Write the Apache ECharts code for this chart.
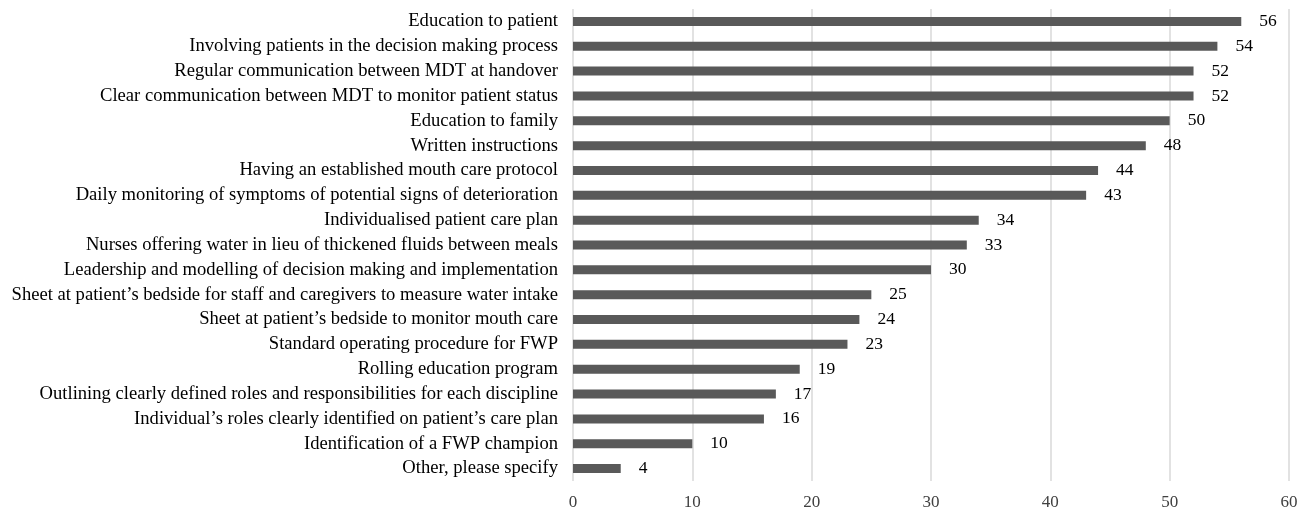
<!DOCTYPE html>
<html><head><meta charset="utf-8">
<script src="https://cdn.jsdelivr.net/npm/echarts@6/dist/echarts.min.js"></script>
<style>html,body{margin:0;padding:0;background:#fff}#c{width:1309px;height:514px}</style>
</head><body><div id="c"></div>
<script>
const categories = [
"Education to patient",
"Involving patients in the decision making process",
"Regular communication between MDT at handover",
"Clear communication between MDT to monitor patient status",
"Education to family",
"Written instructions",
"Having an established mouth care protocol",
"Daily monitoring of symptoms of potential signs of deterioration",
"Individualised patient care plan",
"Nurses offering water in lieu of thickened fluids between meals",
"Leadership and modelling of decision making and implementation",
"Sheet at patient\u2019s bedside for staff and caregivers to measure water intake",
"Sheet at patient\u2019s bedside to monitor mouth care",
"Standard operating procedure for FWP",
"Rolling education program",
"Outlining clearly defined roles and responsibilities for each discipline",
"Individual\u2019s roles clearly identified on patient\u2019s care plan",
"Identification of a FWP champion",
"Other, please specify"
];
const values = [56,54,52,52,50,48,44,43,34,33,30,25,24,23,19,17,16,10,4];
const xTicks = [0,10,20,30,40,50,60];

const font = '"Liberation Serif","Times New Roman",serif';
const chart = echarts.init(document.getElementById('c'));
chart.setOption({
  animation:false,
  grid:{left:573,right:20,top:9,bottom:33,containLabel:false},
  xAxis:{type:'value',min:xTicks[0],max:xTicks[xTicks.length-1],interval:10,
    axisLine:{show:false},axisTick:{show:false},
    axisLabel:{fontFamily:font,fontSize:17,color:'#404040',margin:13},
    splitLine:{lineStyle:{color:'#d9d9d9',width:1.5}}},
  yAxis:{type:'category',data:categories,inverse:true,
    axisLine:{show:false},axisTick:{show:false},
    axisLabel:{fontFamily:font,fontSize:18.6,color:'#000',margin:15}},
  series:[{type:'bar',data:values,barWidth:9,
    itemStyle:{color:'#595959'},
    label:{show:true,position:'right',distance:18,fontFamily:font,fontSize:17.5,color:'#000'}}]
});
</script></body></html>
